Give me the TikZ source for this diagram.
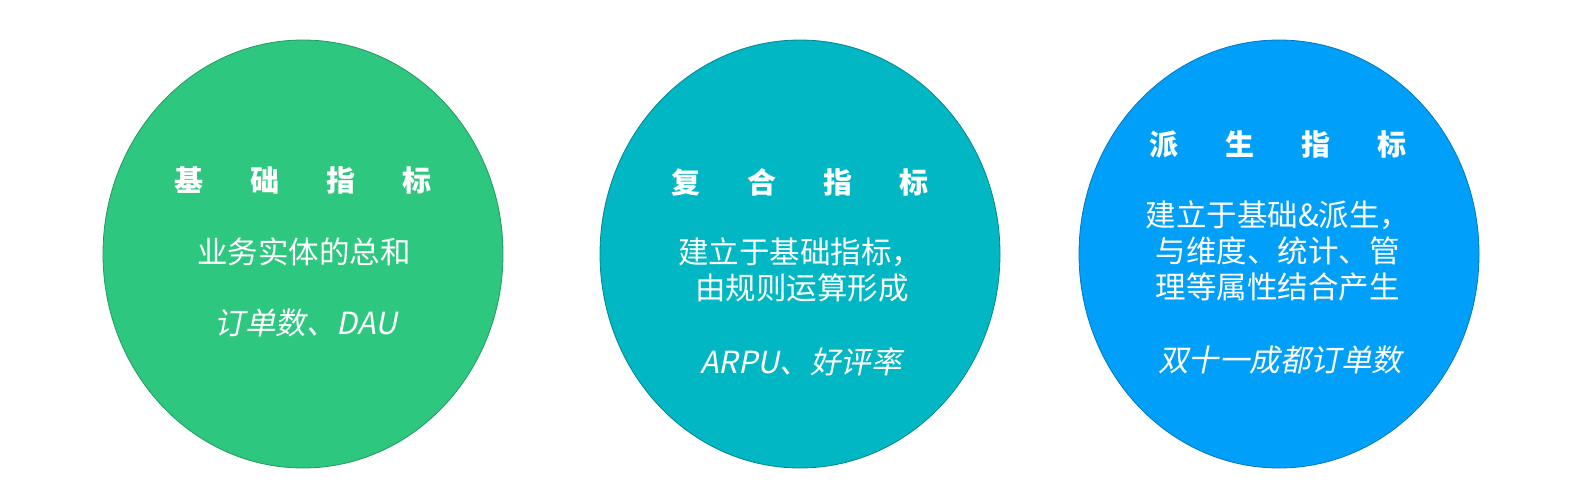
\documentclass[tikz,border=0pt]{standalone}
\usepackage{fontspec}
\usepackage{tikz}
\usetikzlibrary{shapes.geometric}
\newfontfamily\cjk{Noto Sans CJK SC}
\newfontfamily\cjkit[FakeSlant=0.2]{Noto Sans CJK SC}
\definecolor{verde}{HTML}{2EC77F}
\definecolor{verdeb}{HTML}{23995F}
\definecolor{ciano}{HTML}{00B7C3}
\definecolor{cianob}{HTML}{00868F}
\definecolor{azul}{HTML}{00A0FA}
\definecolor{azulb}{HTML}{0077BF}

\begin{document}
\begin{tikzpicture}[
	x=1pt, y=-1pt,
	disco/.style={ellipse, minimum width=400pt, minimum height=428pt, inner sep=0pt, line width=0.8pt},
	titulo/.style={text=white, inner sep=0pt, font=\cjk\bfseries\fontsize{29}{36}\selectfont},
	texto/.style={text=white, inner sep=0pt, align=left, font=\cjk\fontsize{30.5}{36}\selectfont},
	exemplo/.style={text=white, inner sep=0pt, font=\cjkit\fontsize{30.5}{36}\selectfont}
	]
	\useasboundingbox (0,0) rectangle (1581,493);
	\fill[white] (0,0) rectangle (1581,493);

	\node[disco, fill=verde, draw=verdeb] (A) at (303,254) {};
	\node[disco, fill=ciano, draw=cianob] (B) at (800,254) {};
	\node[disco, fill=azul, draw=azulb]  (C) at (1279,254) {};

	% basic metrics
	\node[titulo] (A1) at (303,180) {基\hspace{47pt}础\hspace{47pt}指\hspace{47pt}标};
	\node[texto]  (A2) at (304,252) {业务实体的总和};
	\node[exemplo] (A3) at (306,323) {订单数、DAU};

	% composite metrics
	\node[titulo] (B1) at (800,182) {复\hspace{47pt}合\hspace{47pt}指\hspace{47pt}标};
	\node[texto]  (B2) at (800,270) {建立于基础指标，\\\hspace*{17pt}由规则运算形成};
	\node[exemplo] (B3) at (801,362) {ARPU、好评率};

	% derived metrics
	\node[titulo] (C1) at (1278,145) {派\hspace{47pt}生\hspace{47pt}指\hspace{47pt}标};
	\node[texto]  (C2) at (1278,251) {建立于基础\&派生，\\\hspace*{10pt}与维度、统计、管\\\hspace*{10pt}理等属性结合产生};
	\node[exemplo] (C3) at (1280,360) {双十一成都订单数};
\end{tikzpicture}
\end{document}
